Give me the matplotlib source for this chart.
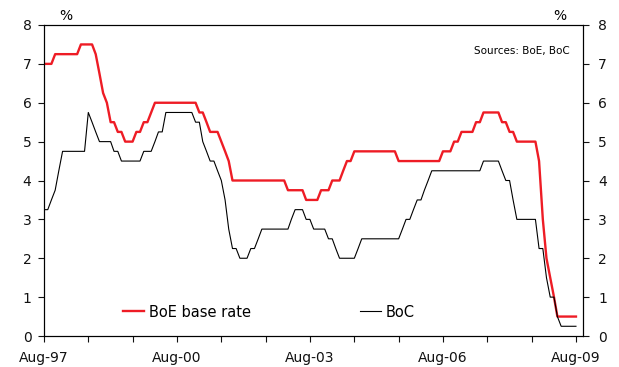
import pandas as pd
import matplotlib
matplotlib.use("Agg")
import matplotlib.pyplot as plt
import matplotlib.dates as mdates
from matplotlib.ticker import FuncFormatter

# monthly values, Aug-97 .. Aug-09 (month-end policy rates, %)
months = pd.date_range("1997-08-01", "2009-08-01", freq="MS")

boe = [7.0, 7.0, 7.0, 7.25, 7.25,
       7.25, 7.25, 7.25, 7.25, 7.25, 7.5, 7.5, 7.5, 7.5, 7.25, 6.75, 6.25,
       6.0, 5.5, 5.5, 5.25, 5.25, 5.0, 5.0, 5.0, 5.25, 5.25, 5.5, 5.5,
       5.75, 6.0, 6.0, 6.0, 6.0, 6.0, 6.0, 6.0, 6.0, 6.0, 6.0, 6.0,
       6.0, 5.75, 5.75, 5.5, 5.25, 5.25, 5.25, 5.0, 4.75, 4.5, 4.0, 4.0,
       4.0, 4.0, 4.0, 4.0, 4.0, 4.0, 4.0, 4.0, 4.0, 4.0, 4.0, 4.0,
       4.0, 3.75, 3.75, 3.75, 3.75, 3.75, 3.5, 3.5, 3.5, 3.5, 3.75, 3.75,
       3.75, 4.0, 4.0, 4.0, 4.25, 4.5, 4.5, 4.75, 4.75, 4.75, 4.75, 4.75,
       4.75, 4.75, 4.75, 4.75, 4.75, 4.75, 4.75, 4.5, 4.5, 4.5, 4.5, 4.5,
       4.5, 4.5, 4.5, 4.5, 4.5, 4.5, 4.5, 4.75, 4.75, 4.75, 5.0, 5.0,
       5.25, 5.25, 5.25, 5.25, 5.5, 5.5, 5.75, 5.75, 5.75, 5.75, 5.75, 5.5,
       5.5, 5.25, 5.25, 5.0, 5.0, 5.0, 5.0, 5.0, 5.0, 4.5, 3.0, 2.0,
       1.5, 1.0, 0.5, 0.5, 0.5, 0.5, 0.5, 0.5]

boc = [3.25, 3.25, 3.5, 3.75, 4.25,
       4.75, 4.75, 4.75, 4.75, 4.75, 4.75, 4.75, 5.75, 5.5, 5.25, 5.0, 5.0,
       5.0, 5.0, 4.75, 4.75, 4.5, 4.5, 4.5, 4.5, 4.5, 4.5, 4.75, 4.75,
       4.75, 5.0, 5.25, 5.25, 5.75, 5.75, 5.75, 5.75, 5.75, 5.75, 5.75, 5.75,
       5.5, 5.5, 5.0, 4.75, 4.5, 4.5, 4.25, 4.0, 3.5, 2.75, 2.25, 2.25,
       2.0, 2.0, 2.0, 2.25, 2.25, 2.5, 2.75, 2.75, 2.75, 2.75, 2.75, 2.75,
       2.75, 2.75, 3.0, 3.25, 3.25, 3.25, 3.0, 3.0, 2.75, 2.75, 2.75, 2.75,
       2.5, 2.5, 2.25, 2.0, 2.0, 2.0, 2.0, 2.0, 2.25, 2.5, 2.5, 2.5,
       2.5, 2.5, 2.5, 2.5, 2.5, 2.5, 2.5, 2.5, 2.75, 3.0, 3.0, 3.25,
       3.5, 3.5, 3.75, 4.0, 4.25, 4.25, 4.25, 4.25, 4.25, 4.25, 4.25, 4.25,
       4.25, 4.25, 4.25, 4.25, 4.25, 4.25, 4.5, 4.5, 4.5, 4.5, 4.5, 4.25,
       4.0, 4.0, 3.5, 3.0, 3.0, 3.0, 3.0, 3.0, 3.0, 2.25, 2.25, 1.5,
       1.0, 1.0, 0.5, 0.25, 0.25, 0.25, 0.25, 0.25]

labelled_years = [1997, 2000, 2003, 2006, 2009]

plt.rcParams["font.family"] = ["DejaVu Sans"]
plt.rcParams["font.size"] = 10

fig = plt.figure(figsize=(6.19, 3.67), dpi=100)
ax = fig.add_axes([44 / 619, 31 / 367, 539 / 619, 311 / 367])

ax.plot(months, boe, color="#ee1c25", lw=1.7, label="BoE base rate")
ax.plot(months, boc, color="black", lw=0.8, label="BoC")

ax.set_ylim(0, 8)
ax.set_yticks(range(0, 9))
ax.set_xlim(pd.Timestamp("1997-08-01"), pd.Timestamp("2009-09-28"))

ax.xaxis.set_major_locator(mdates.YearLocator(1, month=8, day=1))
ax.xaxis.set_major_formatter(FuncFormatter(
    lambda v, pos: mdates.num2date(v).strftime("Aug-%y")
    if mdates.num2date(v).year in labelled_years else ""))

ax.tick_params(direction="out", length=4, width=0.8, colors="#111111")
ax.tick_params(axis="x", pad=7)
ax.tick_params(axis="y", pad=5)
for s in ax.spines.values():
    s.set_linewidth(0.8)

ax2 = ax.twinx()
ax2.set_ylim(0, 8)
ax2.set_yticks(range(0, 9))
ax2.tick_params(direction="out", length=4, width=0.8, colors="#111111", pad=7)
for s in ax2.spines.values():
    s.set_linewidth(0.8)

fig.text(66 / 619, 1 - 16 / 367, "%", ha="center", va="center", fontsize=10)
fig.text(560 / 619, 1 - 16 / 367, "%", ha="center", va="center", fontsize=10)
ax.text(0.975, 0.915, "Sources: BoE, BoC", transform=ax.transAxes,
        ha="right", va="center", fontsize=7.5)

ax.legend(loc="center left", bbox_to_anchor=(0.1466, 0.077), ncol=2,
          frameon=False, borderpad=0, borderaxespad=0, handlelength=1.45,
          handletextpad=0.3, columnspacing=7.5, fontsize=10.5)

fig.savefig("out.png", dpi=100)
